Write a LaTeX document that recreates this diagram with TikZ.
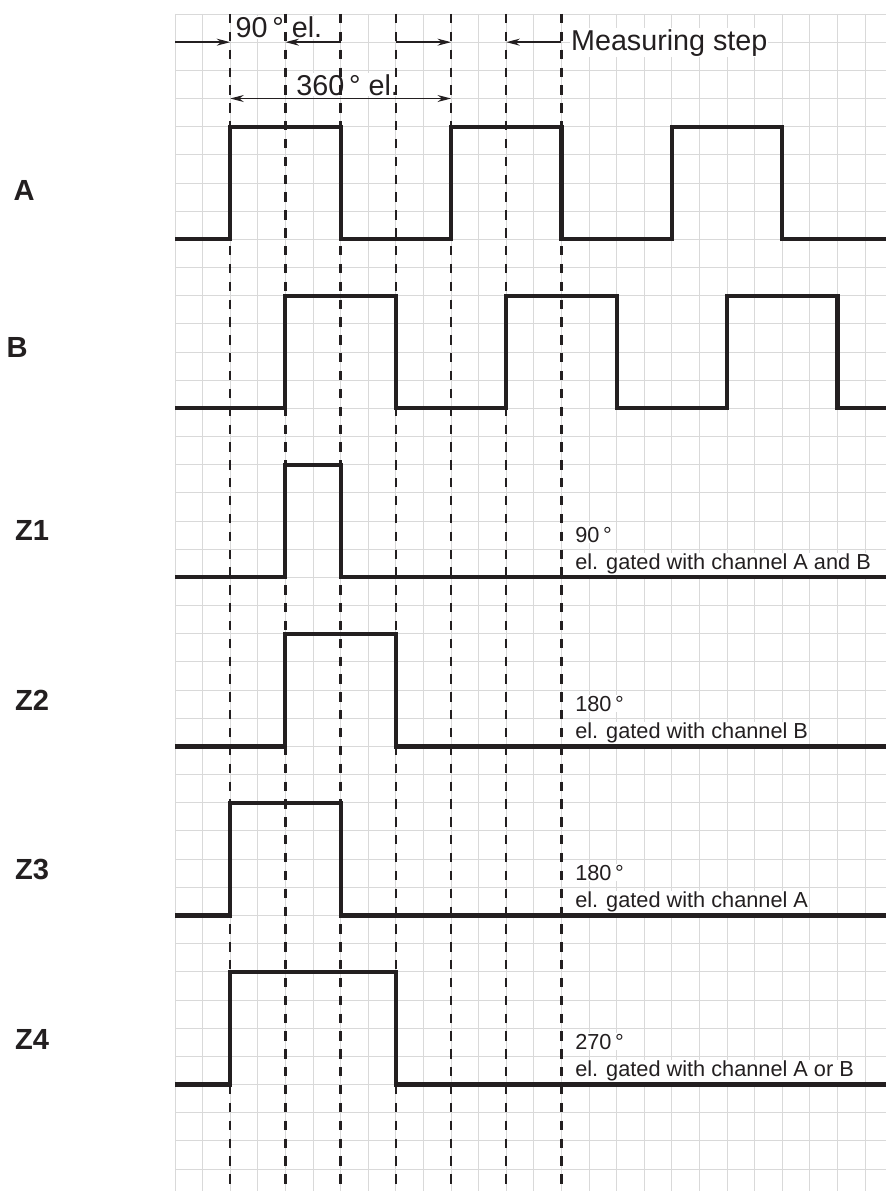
\documentclass[tikz,border=0pt]{standalone}
\usepackage{fontspec}
\setmainfont{Liberation Sans}
\usetikzlibrary{arrows.meta}
\definecolor{sigink}{RGB}{35,31,32}
\definecolor{gridink}{RGB}{217,217,217}

\begin{document}
\begin{tikzpicture}[x=0.5cm, y=-0.5103cm,
    sig/.style={sigink, line width=2.1pt, line join=miter},
    guide/.style={sigink, line width=1.2pt, dash pattern=on 4.8pt off 4.4pt},
    dimarrow/.style={sigink, line width=0.7pt, -{Stealth[length=7pt, width=3.6pt]}},
    chlabel/.style={sigink, font=\fontsize{15}{17}\bfseries\selectfont},
    toptext/.style={sigink, fill=white, inner sep=0.5pt, font=\fontsize{14.8}{17}\selectfont},
    note/.style={sigink, fill=white, inner sep=0.5pt, font=\fontsize{11.2}{13}\selectfont}]
  \useasboundingbox (-6.341,-0.497) rectangle (25.761,41.78);
  \foreach \c in {0,...,25}
    \draw[gridink, line width=0.5pt] (\c,0) -- (\c,41.78);
  \foreach \r in {0,...,41}
    \draw[gridink, line width=0.5pt] (0,\r) -- (25.761,\r);

  \node[toptext, anchor=base west] (quarter) at (2.15,0.83) {90\,° el.};
  \node[toptext, anchor=base west] (period) at (4.35,2.88) {360\,° el.};
  \node[toptext, anchor=base west] (stepnote) at (14.3,1.28) {Measuring step};

  \node[note, anchor=base west] (z1deg) at (14.45,18.75) {90\,°};
  \node[note, anchor=base west] (z1txt) at (14.45,19.72) {el. gated with channel A and B};
  \node[note, anchor=base west] (z2deg) at (14.45,24.75) {180\,°};
  \node[note, anchor=base west] (z2txt) at (14.45,25.72) {el. gated with channel B};
  \node[note, anchor=base west] (z3deg) at (14.45,30.75) {180\,°};
  \node[note, anchor=base west] (z3txt) at (14.45,31.72) {el. gated with channel A};
  \node[note, anchor=base west] (z4deg) at (14.45,36.75) {270\,°};
  \node[note, anchor=base west] (z4txt) at (14.45,37.72) {el. gated with channel A or B};

  \foreach \c in {2,4,...,14}
    \draw[guide] (\c,0) -- (\c,41.78);

  \coordinate (s0) at (0,1);
  \coordinate (s2) at (2,1);
  \coordinate (s4) at (4,1);
  \coordinate (s6) at (6,1);
  \coordinate (s8) at (8,1);
  \coordinate (s10) at (10,1);
  \coordinate (s12) at (12,1);
  \coordinate (s14) at (14,1);
  \coordinate (p2) at (2,3);
  \coordinate (p10) at (10,3);
  \draw[dimarrow] (s0) -- (s2);
  \draw[dimarrow] (s6) -- (s4);
  \draw[dimarrow] (s8) -- (s10);
  \draw[dimarrow] (s14) -- (s12);
  \draw[dimarrow, {Stealth[length=7pt, width=3.6pt]}-{Stealth[length=7pt, width=3.6pt]}] (p2) -- (p10);

  \draw[sig] (0,8) -- (2,8) -- (2,4) -- (6,4) -- (6,8) -- (10,8) -- (10,4) -- (14,4)
    -- (14,8) -- (18,8) -- (18,4) -- (22,4) -- (22,8) -- (25.761,8);
  \draw[sig] (0,14) -- (4,14) -- (4,10) -- (8,10) -- (8,14) -- (12,14) -- (12,10) -- (16,10)
    -- (16,14) -- (20,14) -- (20,10) -- (24,10) -- (24,14) -- (25.761,14);
  \draw[sig] (0,20) -- (4,20) -- (4,16) -- (6,16) -- (6,20) -- (25.761,20);
  \draw[sig] (0,26) -- (4,26) -- (4,22) -- (8,22) -- (8,26) -- (25.761,26);
  \draw[sig] (0,32) -- (2,32) -- (2,28) -- (6,28) -- (6,32) -- (25.761,32);
  \draw[sig] (0,38) -- (2,38) -- (2,34) -- (8,34) -- (8,38) -- (25.761,38);

  \node[chlabel] (chA) at (-5.47,6.25) {A};
  \node[chlabel] (chB) at (-5.72,11.85) {B};
  \node[chlabel] (chZ1) at (-5.18,18.35) {Z1};
  \node[chlabel] (chZ2) at (-5.18,24.35) {Z2};
  \node[chlabel] (chZ3) at (-5.18,30.37) {Z3};
  \node[chlabel] (chZ4) at (-5.18,36.39) {Z4};
\end{tikzpicture}
\end{document}
